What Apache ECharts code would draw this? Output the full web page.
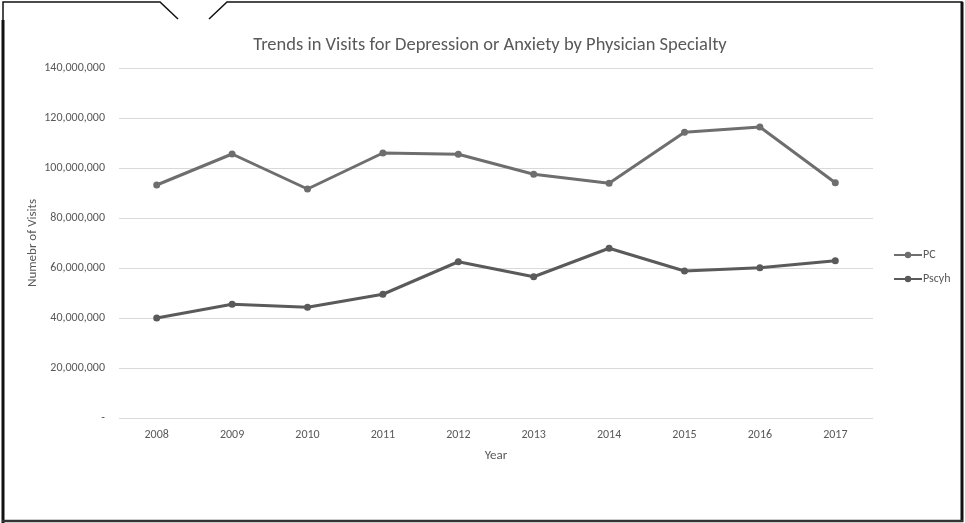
<!DOCTYPE html>
<html><head><meta charset="utf-8">
<script src="https://cdn.jsdelivr.net/npm/echarts@6/dist/echarts.min.js"></script>
<style>html,body{margin:0;padding:0;background:#fff}#c{width:965px;height:523px}</style>
</head><body><div id="c"></div>
<script>
const years = ['2008','2009','2010','2011','2012','2013','2014','2015','2016','2017'];
const pcVisits = [93200000,105600000,91600000,106000000,105500000,97500000,93900000,114300000,116400000,94100000];
const psychVisits = [40000000,45500000,44300000,49500000,62500000,56500000,67900000,58800000,60100000,62900000];
const seriesNames = ['PC','Pscyh'];

const chart = echarts.init(document.getElementById('c'), null, {renderer:'canvas'});
const font = 'Calibri, Carlito, "Open Sans", "Noto Sans", sans-serif';
function fmt(v){ if(v===0) return '-'; return v.toLocaleString('en-US'); }
chart.setOption({
  backgroundColor:'#fff',
  animation:false,
  title:{text:'Trends in Visits for Depression or Anxiety by Physician Specialty',left:485,top:31,textAlign:'center',
    textStyle:{fontFamily:font,fontSize:18.5,fontWeight:'normal',color:'#595959'}},
  legend:{orient:'vertical',left:888,top:244,itemGap:12,itemWidth:28,itemHeight:8,
    textStyle:{fontFamily:font,fontSize:12,color:'#595959',padding:[0,0,0,-4]},
    data:seriesNames},
  grid:{left:119,right:92,top:68,bottom:105,containLabel:false},
  xAxis:{type:'category',data:years,boundaryGap:true,
    name:'Year',nameLocation:'middle',nameGap:31,nameTextStyle:{fontFamily:font,fontSize:13,color:'#595959'},
    axisLine:{show:false},axisTick:{show:false},
    axisLabel:{fontFamily:font,fontSize:12,color:'#595959',margin:11}},
  yAxis:{type:'value',min:0,max:140000000,interval:20000000,
    name:'Numebr of Visits',nameLocation:'middle',nameGap:80,nameRotate:90,nameMoveOverlap:false,
    nameTextStyle:{fontFamily:font,fontSize:13,color:'#595959'},
    axisLine:{show:false},axisTick:{show:false},
    axisLabel:{fontFamily:font,fontSize:12,color:'#595959',margin:14,formatter:fmt},
    splitLine:{lineStyle:{color:'#d9d9d9',width:1}}},
  series:[
    {name:seriesNames[0],type:'line',data:pcVisits,symbol:'circle',symbolSize:7,
      lineStyle:{color:'#6e6e6e',width:3},itemStyle:{color:'#6e6e6e'}},
    {name:seriesNames[1],type:'line',data:psychVisits,symbol:'circle',symbolSize:7,
      lineStyle:{color:'#5a5a5a',width:3},itemStyle:{color:'#5a5a5a'}}
  ],
  graphic:[
    {type:'polyline',shape:{points:[[3,523],[3,2],[160,2],[178,19]]},style:{stroke:'#111',lineWidth:1.5,fill:null}},
    {type:'polyline',shape:{points:[[209,19],[227,2],[962,2],[962,521],[3,521]]},style:{stroke:'#111',lineWidth:1.5,fill:null}},
    {type:'line',shape:{x1:3,y1:20,x2:3,y2:523},style:{stroke:'#111',lineWidth:3}},
    {type:'line',shape:{x1:962,y1:2,x2:962,y2:522},style:{stroke:'#111',lineWidth:3}},
    {type:'line',shape:{x1:2,y1:521,x2:963,y2:521},style:{stroke:'#333',lineWidth:2.5}}
  ]
});
</script></body></html>
